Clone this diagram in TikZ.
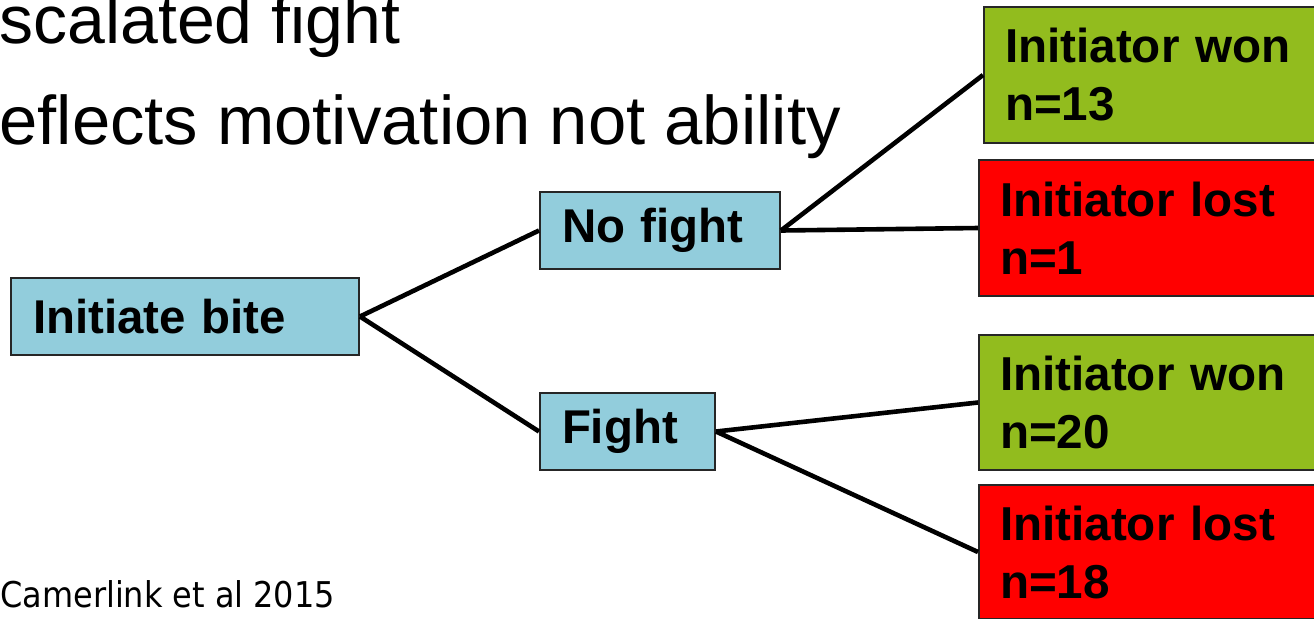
\documentclass[tikz,border=0pt]{standalone}
\usepackage{fontspec}
\setmainfont{Liberation Sans}
\newfontfamily\citefont{DejaVu Sans Condensed}
\usetikzlibrary{positioning}
\definecolor{boxBlue}{HTML}{92CDDC}
\definecolor{boxGreen}{HTML}{92BC1E}
\definecolor{boxRed}{HTML}{FF0000}

\begin{document}
\begin{tikzpicture}[
  x=0.5pt, y=-0.5pt,
  choice/.style={rectangle, draw=black!85, line width=1pt, fill=boxBlue, anchor=north west,
                 minimum height=38.5pt, inner xsep=11pt, inner ysep=0pt, align=left,
                 font=\fontsize{23.7}{26}\selectfont\bfseries},
  outcome/.style={rectangle, draw=black!85, line width=1pt, anchor=north west,
                  text width=160pt, inner xsep=10.5pt, inner ysep=0pt, align=left,
                  font=\fontsize{23.8}{29}\selectfont\bfseries},
  link/.style={line width=2.3pt, black}
]
  \useasboundingbox (0,0) rectangle (1314,618);
  \clip (0,0) rectangle (1314,618);

  % heading lines, cut at the left edge
  \node[anchor=base west, inner sep=0pt, font=\fontsize{34}{40}\selectfont] (title1) at (-1,43) {scalated fight};
  \node[anchor=base west, inner sep=0pt, font=\fontsize{34.4}{40}\selectfont] (title2) at (-1,144) {eflects motivation not ability};

  % decision boxes
  \node[choice, text width=152pt] (bite) at (10,277) {Initiate bite};
  \node[choice, text width=98pt] (nofight) at (539,191) {No fight};
  \node[choice, text width=65.5pt] (fight) at (539,392) {Fight};

  % outcomes
  \node[outcome, fill=boxGreen, minimum height=68pt] (won13) at (983,6) {Initiator won\\n=13};
  \node[outcome, fill=boxRed, minimum height=68pt] (lost1) at (978,159) {Initiator lost\\n=1};
  \node[outcome, fill=boxGreen, minimum height=67.5pt] (won20) at (978,334) {Initiator won\\n=20};
  \node[outcome, fill=boxRed, minimum height=67pt] (lost18) at (978,484) {Initiator lost\\n=18};

  \draw[link] (bite.east) -- (nofight.west);
  \draw[link] (bite.east) -- (fight.west);
  \draw[link] (nofight.east) -- (won13.west);
  \draw[link] (nofight.east) -- (lost1.west);
  \draw[link] (fight.east) -- (won20.west);
  \draw[link] (fight.east) -- (lost18.west);

  \node[anchor=base west, inner sep=0pt, font=\citefont\fontsize{17.75}{20}\selectfont] (cite) at (0,607) {Camerlink et al 2015};
\end{tikzpicture}
\end{document}
